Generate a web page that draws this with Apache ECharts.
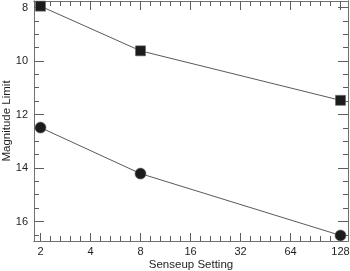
<!DOCTYPE html>
<html>
<head>
<meta charset="utf-8">
<script src="https://cdn.jsdelivr.net/npm/echarts@6/dist/echarts.min.js"></script>
<style>
html,body{margin:0;padding:0;background:#fff;}
#chart{width:350px;height:271px;}
</style>
</head>
<body>
<div id="chart"></div>
<script>
// Data
var senseup = [2, 8, 128];
var squareSeries = [7.95, 9.62, 11.47];
var circleSeries = [12.49, 14.21, 16.52];
var xTickLabels = [2, 4, 8, 16, 32, 64, 128];
var yTickLabels = [8, 10, 12, 14, 16];
var xTitle = 'Senseup Setting';
var yTitle = 'Magnitude Limit';

var xMajor = xTickLabels.map(function (v) { return Math.log2(v); });
var xMinor = [];
for (var i = 0; i < xMajor.length - 1; i++) {
  for (var k = 1; k < 5; k++) xMinor.push(xMajor[i] + k * 0.2);
}
var yMinor = [];
for (var y = 8; y <= 16.5; y += 0.5) { if (yTickLabels.indexOf(y) < 0) yMinor.push(y); }

var xMin = 0.87, xMax = 7.15, yMin = 7.757, yMax = 16.729;
var axisColor = '#707070';
var tickColor = '#5e5e5e';
var textColor = '#1e1e1e';
var font = 'Liberation Sans, Arial, sans-serif';

function xAx(pos, ticks, len, labels) {
  return {
    type: 'value', position: pos, min: xMin, max: xMax,
    axisLine: { show: true, onZero: false, lineStyle: { color: axisColor, width: 1 } },
    axisTick: { show: true, inside: true, length: len, customValues: ticks, lineStyle: { color: tickColor, width: 1 } },
    axisLabel: labels ? {
      show: true, customValues: xMajor, margin: 5, color: textColor, fontSize: 11, fontFamily: font,
      formatter: function (v) { return String(Math.round(Math.pow(2, v))); }
    } : { show: false },
    splitLine: { show: false }
  };
}
function yAx(pos, ticks, len, labels) {
  return {
    type: 'value', position: pos, min: yMin, max: yMax, inverse: true,
    axisLine: { show: true, onZero: false, lineStyle: { color: axisColor, width: 1 } },
    axisTick: { show: true, inside: true, length: len, customValues: ticks, lineStyle: { color: tickColor, width: 1 } },
    axisLabel: labels ? {
      show: true, customValues: yTickLabels, margin: 6, color: textColor, fontSize: 11, fontFamily: font
    } : { show: false },
    splitLine: { show: false }
  };
}

var chart = echarts.init(document.getElementById('chart'), null, { renderer: 'canvas' });
chart.setOption({
  animation: false,
  backgroundColor: '#ffffff',
  grid: { left: 34, right: 2, top: 1, bottom: 30, containLabel: false, outerBoundsMode: 'none' },
  xAxis: [
    xAx('bottom', xMajor, 8, true),
    xAx('bottom', xMinor, 5, false),
    xAx('top', xMajor, 9, false),
    xAx('top', xMinor, 5, false)
  ],
  yAxis: [
    yAx('left', yTickLabels, 10, true),
    yAx('left', yMinor, 5, false),
    yAx('right', yTickLabels, 10, false),
    yAx('right', yMinor, 5, false)
  ],
  graphic: [
    {
      type: 'text', x: 191, y: 265,
      style: { text: xTitle, fill: textColor, font: '11.5px ' + font, align: 'center', verticalAlign: 'middle' }
    },
    {
      type: 'text', x: 7, y: 121, rotation: Math.PI / 2,
      style: { text: yTitle, fill: textColor, font: '11.5px ' + font, align: 'center', verticalAlign: 'middle' }
    }
  ],
  series: [
    {
      type: 'line', xAxisIndex: 0, yAxisIndex: 0,
      data: senseup.map(function (s, i) { return [Math.log2(s), squareSeries[i]]; }),
      symbol: 'rect', symbolSize: 10,
      lineStyle: { color: '#5a5a5a', width: 1 },
      itemStyle: { color: '#1c1c1c', borderColor: '#666', borderWidth: 0.6 }
    },
    {
      type: 'line', xAxisIndex: 0, yAxisIndex: 0,
      data: senseup.map(function (s, i) { return [Math.log2(s), circleSeries[i]]; }),
      symbol: 'circle', symbolSize: 11,
      lineStyle: { color: '#5a5a5a', width: 1 },
      itemStyle: { color: '#1c1c1c', borderColor: '#666', borderWidth: 0.6 }
    }
  ]
});
</script>
</body>
</html>
